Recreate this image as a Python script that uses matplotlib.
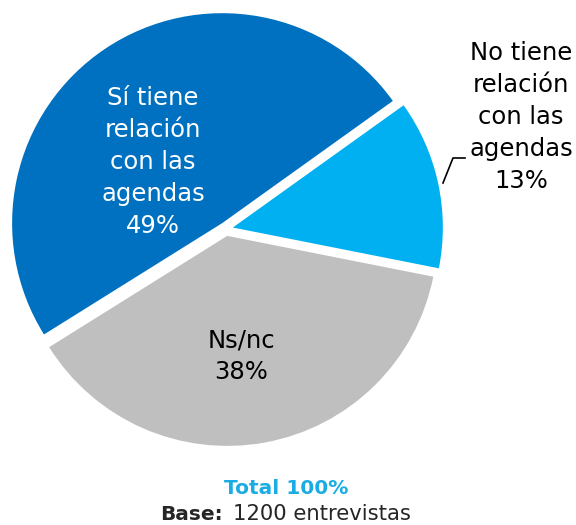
import matplotlib.pyplot as plt

# data
labels = ['Sí tiene\nrelación\ncon las\nagendas', 'No tiene\nrelación\ncon las\nagendas', 'Ns/nc']
values = [49, 13, 38]
colors = ['#0070C0', '#00B0F0', '#BFBFBF']
text_colors = ['white', 'black', 'black']
total_label = 'Total 100%'
base_label = '1200 entrevistas'

plt.rcParams['font.family'] = ['DejaVu Sans']

W, H = 576, 525
fig = plt.figure(figsize=(W / 100, H / 100), dpi=100)
ax = fig.add_axes([0, 0, 1, 1])

# pie in pixel-like coords (y up); explode is in data units here
cx, cy, R = 226, H - 229, 210
wedges, _ = ax.pie(values, colors=colors, startangle=212, counterclock=False,
                   explode=[7] * 3, center=(cx, cy), radius=R,
                   wedgeprops=dict(linewidth=0))

ax.set_xlim(0, W)
ax.set_ylim(0, H)
ax.set_aspect('equal')
ax.axis('off')

fs = 17.5
ax.text(153, H - 162, labels[0] + '\n%d%%' % values[0], color=text_colors[0],
        ha='center', va='center', fontsize=fs, linespacing=1.42)
ax.text(241, H - 356, labels[2] + '\n%d%%' % values[2], color=text_colors[2],
        ha='center', va='center', fontsize=fs, linespacing=1.42)
ax.text(521, H - 117, labels[1] + '\n%d%%' % values[1], color=text_colors[1],
        ha='center', va='center', fontsize=fs, linespacing=1.42)

# leader line for the small slice
ax.plot([443, 453, 465], [H - 183, H - 158, H - 158], color='black', lw=1.2)

ax.text(286, H - 488, total_label, color='#1AADE4', fontweight='bold',
        ha='center', va='center', fontsize=14.5)
ax.text(223, H - 514, 'Base:', color='#262626', fontweight='bold',
        ha='right', va='center', fontsize=14.5)
ax.text(233, H - 514, base_label, color='#262626',
        ha='left', va='center', fontsize=15.2)

fig.savefig('out.png', dpi=100)
